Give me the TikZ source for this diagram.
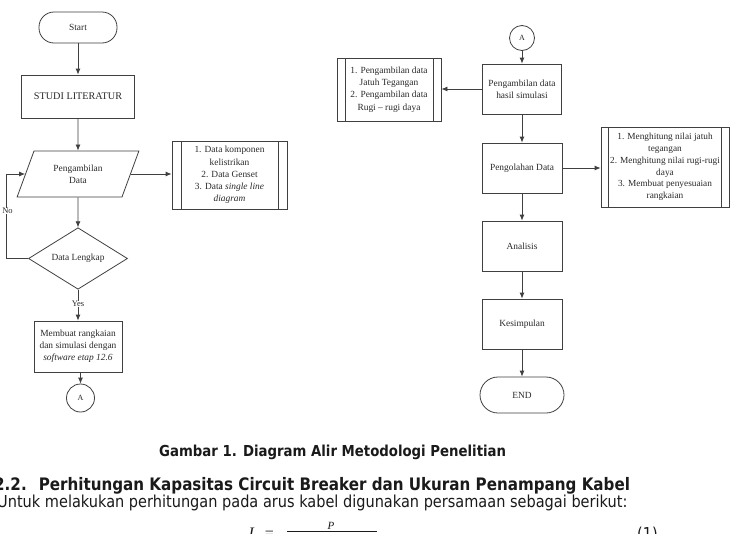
\documentclass[tikz,border=0pt]{standalone}
\usepackage{fontspec}
\setmainfont{Liberation Serif}
\newfontfamily\tah[FakeStretch=0.88]{DejaVu Sans}
\usetikzlibrary{shapes.geometric,arrows.meta}
\definecolor{ln}{HTML}{404040}
\definecolor{tx}{HTML}{2A2A2A}
\definecolor{bt}{HTML}{1A1A1A}
\begin{document}
\begin{tikzpicture}[x=1pt,y=-1pt,
  box/.style={draw=ln,line width=0.8pt,rectangle,align=center,text=tx,
    font=\fontsize{9.4}{12.2}\selectfont,inner sep=1pt},
  term/.style={box,rounded corners=#1},
  pproc/.style={box,path picture={
      \draw[ln,line width=0.8pt] ([xshift=#1]path picture bounding box.north west) -- ([xshift=#1]path picture bounding box.south west);
      \draw[ln,line width=0.8pt] ([xshift=-#1]path picture bounding box.north east) -- ([xshift=-#1]path picture bounding box.south east);}},
  para/.style={box,trapezium,trapezium left angle=63.4,trapezium right angle=116.6,
    trapezium stretches=true,minimum width=122pt,minimum height=46pt,inner sep=0pt},
  diam/.style={box,diamond,minimum width=99pt,minimum height=59pt,inner sep=0pt},
  conn/.style={box,circle,inner sep=0pt,font=\fontsize{8}{9}\selectfont},
  lbl/.style={text=tx,font=\fontsize{8.5}{9}\selectfont,inner sep=0.5pt,fill=white},
  arr/.style={draw=ln,line width=0.8pt,-{Latex[length=6pt,width=5pt]}},
  btxt/.style={text=bt,inner sep=0pt}
]
\useasboundingbox (0,0) rectangle (731,533);
\fill[white] (0,0) rectangle (731,533);

% ---------- left column ----------
\node[term=15pt,minimum width=78pt,minimum height=31pt] (st) at (78,27.5) {Start};
\node[box,minimum width=113pt,minimum height=43pt,font=\fontsize{10.2}{12}\selectfont] (sl) at (78,96.5) {STUDI LITERATUR};
\node[para] (pg) at (78,174) {Pengambilan\\Data};
\node[pproc=9pt,minimum width=115pt,minimum height=68pt] (l1) at (229.5,175)
  {1. Data komponen\\kelistrikan\\2. Data Genset\\3. Data \textit{single line}\\\textit{diagram}};
\node[diam] (dl) at (78,258.5) {Data Lengkap};
\node[box,minimum width=88pt,minimum height=51pt] (mb) at (78,346.5)
  {Membuat rangkaian\\dan simulasi dengan\\\textit{software etap 12.6}};
\node[conn,minimum size=28pt] (ca) at (80.5,398) {A};
\coordinate (lp) at (6,0);

\draw[arr] (st) -- (sl);
\draw[arr] (sl) -- (pg);
\draw[arr] (pg.east) -- (pg.east -| l1.west);
\draw[arr] (pg) -- (dl);
\draw[arr] (dl.west) -- (dl.west -| lp) |- (pg.west);
\draw[arr] (dl) -- (mb);
\draw[arr] (mb.south -| ca) -- (ca);
\node[lbl] (no) at (7.5,211) {No};
\node[lbl] (yes) at (78,304) {Yes};

% ---------- right column ----------
\node[conn,minimum size=25pt] (cb) at (522,38) {A};
\node[box,minimum width=79pt,minimum height=50pt] (hs) at (522,89) {Pengambilan data\\hasil simulasi};
\node[pproc=8pt,minimum width=104pt,minimum height=63pt] (l2) at (389,89.5)
  {1. Pengambilan data\\Jatuh Tegangan\\2. Pengambilan data\\Rugi -- rugi daya};
\node[box,minimum width=80pt,minimum height=50pt] (ol) at (522,168) {Pengolahan Data};
\node[pproc=7.5pt,minimum width=128pt,minimum height=80pt,font=\fontsize{9.3}{11.7}\selectfont] (l3) at (665,167)
  {1. Menghitung nilai jatuh\\tegangan\\2. Menghitung nilai rugi-rugi\\daya\\3. Membuat penyesuaian\\rangkaian};
\node[box,minimum width=80pt,minimum height=50pt] (an) at (522,246) {Analisis};
\node[box,minimum width=80pt,minimum height=50pt] (ks) at (522,324) {Kesimpulan};
\node[term=18pt,minimum width=84pt,minimum height=36pt] (en) at (522,395) {END};

\draw[arr] (cb) -- (hs);
\draw[arr] (hs.west) -- (hs.west -| l2.east);
\draw[arr] (hs) -- (ol);
\draw[arr] (ol.east) -- (ol.east -| l3.west);
\draw[arr] (ol) -- (an);
\draw[arr] (an) -- (ks);
\draw[arr] (ks) -- (en);

% ---------- text below ----------
\node[btxt,anchor=base west,font=\tah\bfseries\fontsize{15.1}{18}\selectfont] (cap) at (159,456)
  {Gambar 1. Diagram Alir Metodologi Penelitian};
\node[btxt,anchor=base west,font=\tah\bfseries\fontsize{17.2}{19}\selectfont] (hd) at (-6,490)
  {2.2.\hspace{0.7em}Perhitungan Kapasitas Circuit Breaker dan Ukuran Penampang Kabel};
\node[btxt,anchor=base west,font=\tah\fontsize{16.5}{19}\selectfont] (bd) at (-3,507.5)
  {Untuk melakukan perhitungan pada arus kabel digunakan persamaan sebagai berikut:};
\node[btxt,anchor=base,font=\fontsize{16}{18}\selectfont] (fi) at (251.5,538) {\textit{I}};
\node[btxt,anchor=base,font=\fontsize{16}{18}\selectfont] (feq) at (269.5,538) {=};
\node[btxt,font=\fontsize{11}{12}\selectfont] (fp) at (331,525.5) {\textit{P}};
\draw[bt,line width=0.8pt] (287,531.5) -- (377,531.5);
\node[btxt,anchor=base west,font=\tah\fontsize{16.4}{19}\selectfont] (eqn) at (637,539) {(1)};
\end{tikzpicture}
\end{document}
